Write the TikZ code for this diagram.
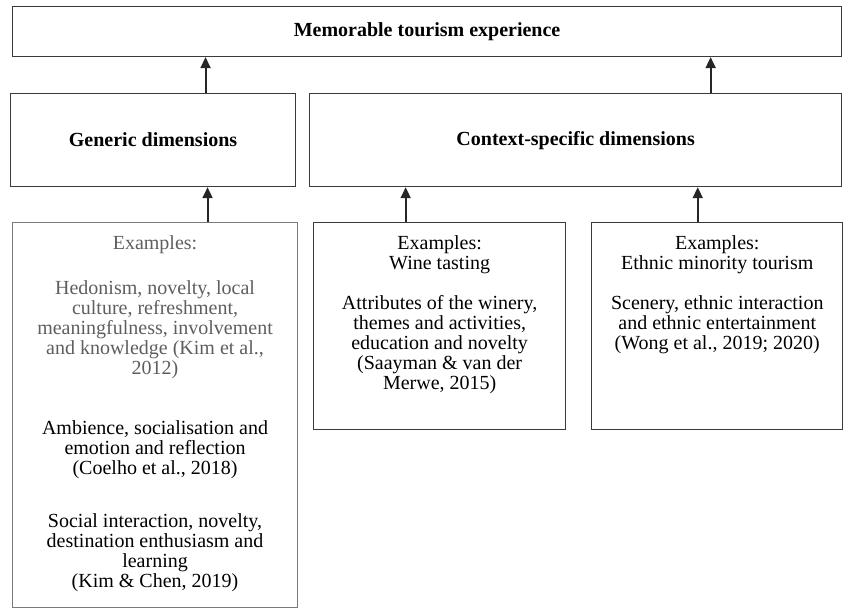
\documentclass[tikz,border=0pt]{standalone}
\usepackage{fontspec}
\setmainfont{Liberation Serif}
\usetikzlibrary{arrows.meta,positioning}

\definecolor{lineclr}{HTML}{3A3A3A}
\definecolor{greyline}{HTML}{7A7A7A}
\definecolor{greytext}{HTML}{5E5E5E}

% top-aligned text inside a box of fixed size
\newcommand{\boxtext}[3]{\parbox[t][#1][t]{#2}{\centering\vspace*{13pt}#3}}

\begin{document}
\begin{tikzpicture}[x=1pt, y=-1pt,
    dimbox/.style={rectangle, draw=lineclr, line width=1.1pt, inner sep=0pt, font=\fontsize{20}{20}\selectfont\bfseries},
    exbox/.style={rectangle, draw=lineclr, line width=1.1pt, inner sep=0pt, font=\fontsize{20}{20}\selectfont},
    arr/.style={-{Triangle[length=11pt,width=10pt]}, line width=1.9pt, draw=black!85}]

    \useasboundingbox (0,0) rectangle (843,608);

    % Nodes
    \node (mte) [dimbox, anchor=north west, minimum width=829pt, minimum height=50pt] at (12,6) {Memorable tourism experience};

    \node (gen) [dimbox, minimum width=285pt, minimum height=93pt, below=36pt of mte.south west, anchor=north west, xshift=-2pt] {Generic dimensions};
    \node (ctx) [dimbox, minimum width=532pt, minimum height=93pt, right=13pt of gen.north east, anchor=north west] {Context-specific dimensions};

    \node (exgen) [exbox, draw=greyline, below=35pt of gen.south west, anchor=north west, xshift=2pt] {\boxtext{385pt}{285pt}{%
        {\color{greytext}Examples:\\[25pt]
        Hedonism, novelty, local\\culture, refreshment,\\meaningfulness, involvement\\and knowledge (Kim et al.,\\2012)}\\[40pt]
        Ambience, socialisation and\\emotion and reflection\\(Coelho et al., 2018)\\[33pt]
        Social interaction, novelty,\\destination enthusiasm and\\learning\\(Kim \& Chen, 2019)}};
    \node (exwine) [exbox, right=15pt of exgen.north east, anchor=north west] {\boxtext{207pt}{252pt}{%
        Examples:\\Wine tasting\\[20pt]
        Attributes of the winery,\\themes and activities,\\education and novelty\\(Saayman \& van der\\Merwe, 2015)}};
    \node (exethnic) [exbox, right=25pt of exwine.north east, anchor=north west] {\boxtext{207pt}{251pt}{%
        Examples:\\Ethnic minority tourism\\[20pt]
        Scenery, ethnic interaction\\and ethnic entertainment\\(Wong et al., 2019; 2020)}};

    % Arrows
    \draw [arr] ([xshift=52.5pt]gen.north) -- ([xshift=52.5pt]gen.north |- mte.south);
    \draw [arr] ([xshift=135pt]ctx.north) -- ([xshift=135pt]ctx.north |- mte.south);
    \draw [arr] ([xshift=52.5pt]exgen.north) -- ([xshift=52.5pt]exgen.north |- gen.south);
    \draw [arr] ([xshift=-34pt]exwine.north) -- ([xshift=-34pt]exwine.north |- ctx.south);
    \draw [arr] ([xshift=-19.5pt]exethnic.north) -- ([xshift=-19.5pt]exethnic.north |- ctx.south);
\end{tikzpicture}
\end{document}
